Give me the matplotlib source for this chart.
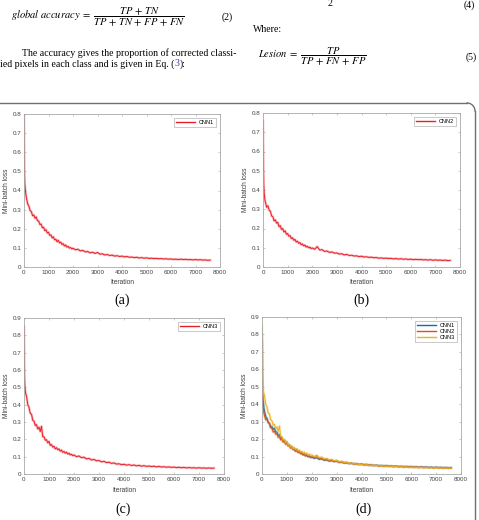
import numpy as np
import matplotlib
matplotlib.use('Agg')
import matplotlib.pyplot as plt

plt.rcParams['mathtext.fontset'] = 'stix'

iters = [0, 10, 20, 30, 50, 75] + list(range(100, 2000, 50)) + list(range(2000, 7700, 100))

cnn1 = [0.80, 0.62, 0.50, 0.44, 0.41, 0.38,
        0.36, 0.33, 0.318, 0.295, 0.29, 0.268, 0.272, 0.255, 0.262, 0.242,
        0.24, 0.222, 0.225, 0.205, 0.208, 0.19, 0.195, 0.178, 0.182, 0.165,
        0.168, 0.152, 0.158, 0.142, 0.145, 0.132, 0.14, 0.126, 0.13, 0.118,
        0.122, 0.11, 0.115, 0.104, 0.108, 0.099, 0.102, 0.095,
        0.098, 0.09, 0.093, 0.084, 0.087, 0.079, 0.081, 0.074, 0.077, 0.071,
        0.076, 0.067, 0.069, 0.063, 0.065, 0.06, 0.062, 0.057, 0.059, 0.055,
        0.057, 0.053, 0.055, 0.051, 0.052, 0.049, 0.051, 0.047, 0.049, 0.046,
        0.048, 0.045, 0.046, 0.044, 0.045, 0.043, 0.044, 0.042, 0.043, 0.041,
        0.042, 0.040, 0.041, 0.039, 0.041, 0.039, 0.040, 0.038, 0.039, 0.037,
        0.039, 0.037, 0.038, 0.036, 0.037, 0.035, 0.036]

cnn2 = [0.76, 0.64, 0.52, 0.43, 0.38, 0.35,
        0.335, 0.31, 0.318, 0.295, 0.29, 0.265, 0.262, 0.24, 0.245, 0.228,
        0.232, 0.21, 0.215, 0.195, 0.2, 0.182, 0.188, 0.17, 0.174, 0.16,
        0.163, 0.148, 0.152, 0.139, 0.143, 0.13, 0.134, 0.123, 0.127, 0.116,
        0.12, 0.11, 0.114, 0.104, 0.108, 0.1, 0.103, 0.096,
        0.099, 0.092, 0.106, 0.088, 0.09, 0.081, 0.083, 0.076, 0.078, 0.072,
        0.073, 0.067, 0.069, 0.063, 0.065, 0.06, 0.061, 0.057, 0.058, 0.054,
        0.056, 0.052, 0.053, 0.05, 0.051, 0.048, 0.049, 0.046, 0.047, 0.045,
        0.046, 0.044, 0.045, 0.042, 0.044, 0.041, 0.043, 0.040, 0.042, 0.039,
        0.041, 0.038, 0.040, 0.038, 0.039, 0.037, 0.038, 0.036, 0.038, 0.035,
        0.037, 0.035, 0.036, 0.034, 0.036, 0.033, 0.034]

cnn3 = [0.85, 0.70, 0.58, 0.52, 0.48, 0.46,
        0.45, 0.40, 0.385, 0.35, 0.345, 0.31, 0.305, 0.28, 0.285, 0.26,
        0.27, 0.245, 0.275, 0.215, 0.215, 0.195, 0.198, 0.18, 0.188, 0.165,
        0.17, 0.155, 0.16, 0.145, 0.152, 0.14, 0.145, 0.132, 0.138, 0.125,
        0.13, 0.12, 0.126, 0.115, 0.12, 0.11, 0.114, 0.106,
        0.11, 0.1, 0.104, 0.094, 0.097, 0.087, 0.09, 0.081, 0.084, 0.076,
        0.078, 0.07, 0.073, 0.066, 0.068, 0.061, 0.064, 0.057, 0.059, 0.054,
        0.056, 0.051, 0.054, 0.049, 0.052, 0.047, 0.05, 0.045, 0.048, 0.044,
        0.046, 0.043, 0.045, 0.041, 0.044, 0.040, 0.042, 0.039, 0.041, 0.038,
        0.040, 0.037, 0.039, 0.036, 0.038, 0.035, 0.037, 0.035, 0.036, 0.034,
        0.036, 0.034, 0.035, 0.033, 0.035, 0.033, 0.034]

W, H = 479, 520
fig = plt.figure(figsize=(W / 100, H / 100), dpi=100)

# background layer in pixel coords for page text and the frame
bg = fig.add_axes([0, 0, 1, 1])
bg.set_xlim(0, W)
bg.set_ylim(H, 0)
bg.axis('off')

serif = 'Liberation Serif'
fs = 7.1
bg.text(11, 17, r'$\mathit{global\ accuracy}\; = \;\dfrac{TP\, +\, TN}{TP\, +\, TN\, +\, FP\, +\, FN}$',
        fontsize=7.6, va='center', ha='left')
bg.text(222, 17, '(2)', fontsize=fs, family=serif, va='center')
bg.text(330, 4, '2', fontsize=fs, family=serif, va='center', ha='center')
bg.text(464, 5, '(4)', fontsize=fs, family=serif, va='center')
bg.text(253, 29, 'Where:', fontsize=fs, family=serif, va='center')
bg.text(22, 53, 'The accuracy gives the proportion of corrected classi-',
        fontsize=fs, family=serif, va='center')
t1 = bg.text(0, 64, 'ied pixels in each class and is given in Eq. (',
             fontsize=fs, family=serif, va='center')
fig.canvas.draw()
r = fig.canvas.get_renderer()
ext = t1.get_window_extent(r)
t2 = bg.text(ext.x1, 64, '3', fontsize=fs, family=serif,
             va='center', color='#3a3ab0')
ext2 = t2.get_window_extent(r)
bg.text(ext2.x1, 64, '):', fontsize=fs, family=serif, va='center')
bg.text(258, 57, r'$\mathit{Lesion}\; = \;\dfrac{TP}{TP\, +\, FN\, +\, FP}$',
        fontsize=7.6, va='center', ha='left')
bg.text(466, 57, '(5)', fontsize=fs, family=serif, va='center')

# rounded frame around the figure panels
rad = 8
bg.plot([0, 475 - rad], [103, 103], color='#707070', lw=1)
th = np.linspace(-np.pi / 2, 0, 20)
bg.plot(475 - rad + rad * np.cos(th), 103 + rad + rad * np.sin(th), color='#707070', lw=1)
bg.plot([475, 475], [103 + rad, H], color='#707070', lw=1)


def px_axes(l, t, rr, b):
    return fig.add_axes([l / W, 1 - b / H, (rr - l) / W, (b - t) / H])


panels = [
    # left, top, right, bottom, ymax, series, tag, tag position
    (24, 114, 220, 267, 0.8, [('CNN1', cnn1, '#e8202a')], '(a)', (122, 300)),
    (263, 113, 460, 267, 0.8, [('CNN2', cnn2, '#e8202a')], '(b)', (361, 300)),
    (24, 318, 224, 474, 0.9, [('CNN3', cnn3, '#e8202a')], '(c)', (123, 509)),
    (262, 317, 461, 474, 0.9, [('CNN1', cnn1, '#0072BD'), ('CNN2', cnn2, '#D95319'),
                               ('CNN3', cnn3, '#EDB120')], '(d)', (364, 509)),
]

for l, t, rr, b, ymax, series, tag, tpos in panels:
    ax = px_axes(l, t, rr, b)
    for name, vals, col in series:
        ax.plot(iters, vals, color=col, lw=1.8, alpha=0.3)
        ax.plot(iters, vals, color=col, lw=0.7, label=name)
    ax.set_xlim(0, 8000)
    ax.set_ylim(0, ymax)
    ax.set_xticks(np.arange(0, 8001, 1000))
    ax.set_yticks(np.round(np.arange(0, ymax + 0.01, 0.1), 1))
    ax.set_yticklabels(['0'] + ['%.1f' % v for v in np.arange(0.1, ymax + 0.01, 0.1)])
    ax.tick_params(direction='in', length=1.5, width=0.4, labelsize=4.5,
                   top=True, right=True, colors='#a0a0a0', labelcolor='#404040', pad=2)
    for lab in ax.get_xticklabels() + ax.get_yticklabels():
        lab.set_family('Liberation Sans')
    for s in ax.spines.values():
        s.set_color('#a8a8a8')
        s.set_linewidth(0.6)
    handles = [h for h in ax.get_lines() if not h.get_label().startswith('_')]
    leg = ax.legend(handles=handles, loc='upper right', frameon=True,
                    fancybox=False, edgecolor='#a0a0a0', handlelength=3.5,
                    borderpad=0.35, labelspacing=0.15, handletextpad=0.6,
                    borderaxespad=0.8, prop={'family': 'Liberation Sans', 'size': 4})
    leg.get_frame().set_linewidth(0.5)
    for ln in leg.get_lines():
        ln.set_linewidth(1.0)
    cx = (l + rr) / 2
    bg.text(cx, b + 16, 'Iteration', fontsize=4.8, family='Liberation Sans',
            ha='center', va='center', color='#404040')
    bg.text(l - 17, (t + b) / 2, 'Mini-batch loss', fontsize=4.8, family='Liberation Sans',
            ha='center', va='center', rotation=90, color='#404040')
    bg.text(tpos[0], tpos[1], tag, fontsize=10, family=serif, ha='center', va='center')

fig.savefig('out.png', dpi=100)
